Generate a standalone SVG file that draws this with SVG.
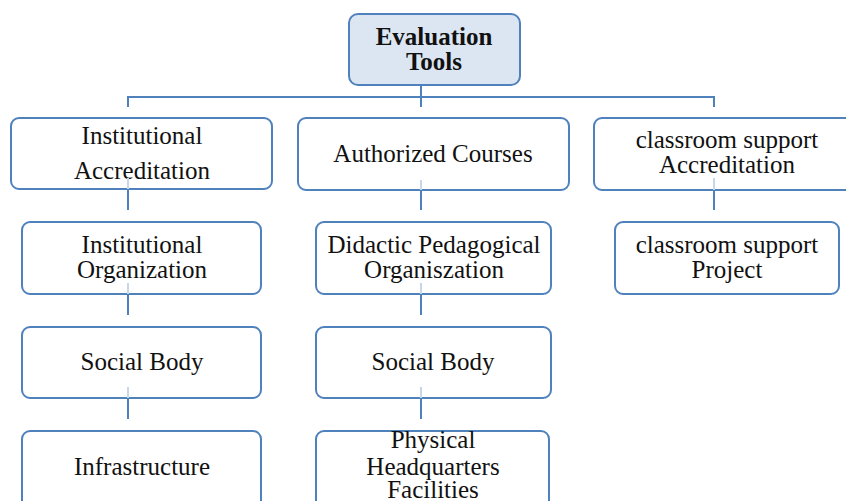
<svg xmlns="http://www.w3.org/2000/svg" width="846" height="501" viewBox="0 0 846 501">
  <style>
    .box { fill: #ffffff; stroke: #4f81bd; stroke-width: 2; }
    .root { fill: #dce6f2; stroke: #4f81bd; stroke-width: 2; }
    .lbl { font-family: "Liberation Serif", "Times New Roman", serif; font-size: 25px; fill: #111111; text-anchor: middle; }
    .bold { font-weight: bold; }
    .wire { stroke: #4f81bd; stroke-width: 2; fill: none; }
    .ghost { stroke: #c8d6ea; stroke-width: 2; fill: none; }
  </style>
  <rect width="846" height="501" fill="#ffffff"/>

  <g id="evaluation-tools">
    <rect class="root" x="349" y="14" width="171" height="71" rx="9"/>
    <text class="lbl bold" x="434" y="45">Evaluation</text>
    <text class="lbl bold" x="434" y="70">Tools</text>
  </g>

  <g id="institutional-accreditation">
    <rect class="box" x="11" y="118" width="261" height="71" rx="8"/>
    <text class="lbl" x="142" y="144">Institutional</text>
    <text class="lbl" x="142" y="179">Accreditation</text>
  </g>
  <g id="authorized-courses">
    <rect class="box" x="298" y="118" width="271" height="72" rx="8"/>
    <text class="lbl" x="433" y="162">Authorized Courses</text>
  </g>
  <g id="classroom-support-accreditation">
    <rect class="box" x="594" y="118" width="270" height="72" rx="8"/>
    <text class="lbl" x="727" y="148">classroom support</text>
    <text class="lbl" x="727" y="173">Accreditation</text>
  </g>

  <g id="institutional-organization">
    <rect class="box" x="22" y="222" width="239" height="72" rx="8"/>
    <text class="lbl" x="142" y="253">Institutional</text>
    <text class="lbl" x="142" y="278">Organization</text>
  </g>
  <g id="didactic-pedagogical">
    <rect class="box" x="316" y="222" width="235" height="72" rx="8"/>
    <text class="lbl" x="434" y="253">Didactic Pedagogical</text>
    <text class="lbl" x="434" y="278">Organiszation</text>
  </g>
  <g id="classroom-support-project">
    <rect class="box" x="615" y="222" width="224" height="72" rx="8"/>
    <text class="lbl" x="727" y="253">classroom support</text>
    <text class="lbl" x="727" y="278">Project</text>
  </g>

  <g id="social-body-left">
    <rect class="box" x="22" y="327" width="239" height="71" rx="8"/>
    <text class="lbl" x="142" y="370">Social Body</text>
  </g>
  <g id="social-body-middle">
    <rect class="box" x="316" y="327" width="235" height="71" rx="8"/>
    <text class="lbl" x="433" y="370">Social Body</text>
  </g>

  <g id="infrastructure">
    <rect class="box" x="22" y="431" width="239" height="80" rx="8"/>
    <text class="lbl" x="142" y="475">Infrastructure</text>
  </g>
  <g id="physical-headquarters">
    <rect class="box" x="316" y="431" width="233" height="80" rx="8"/>
    <text class="lbl" x="433" y="448">Physical</text>
    <text class="lbl" x="433" y="475">Headquarters</text>
    <text class="lbl" x="433" y="498">Facilities</text>
  </g>

  <g id="connectors">
    <!-- trunk from the root to the three branches -->
    <path class="wire" d="M421 85 V97 M128 97 H714 M128 96 V107 M421 97 V107 M714 96 V107"/>
    <!-- faint stubs running up inside each parent box -->
    <path class="ghost" d="M128 178 V189 M128 283 V294 M128 387 V398 M421 180 V190 M421 283 V294 M421 387 V398 M714 178 V190"/>
    <!-- column links -->
    <path class="wire" d="M128 189 V210 M128 294 V315 M128 398 V419"/>
    <path class="wire" d="M421 190 V210 M421 294 V315 M421 398 V419"/>
    <path class="wire" d="M714 190 V210"/>
  </g>
</svg>
